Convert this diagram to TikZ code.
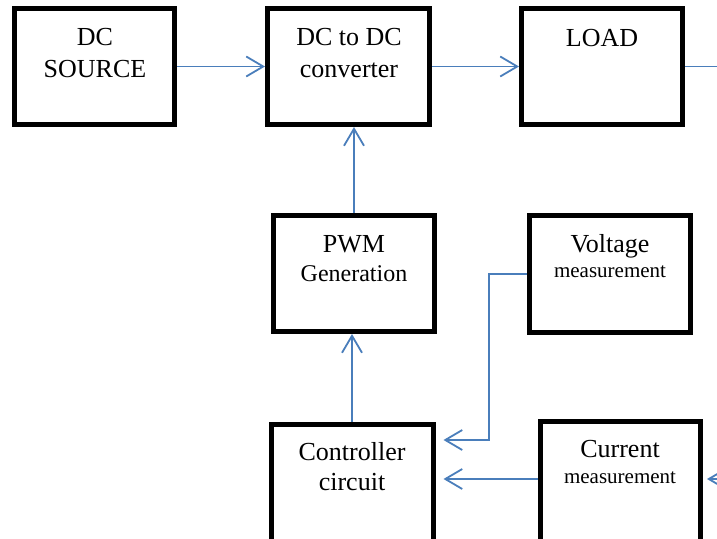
\documentclass[tikz,border=0pt]{standalone}
\usepackage{fontspec}
\setmainfont{Liberation Serif}
\usetikzlibrary{arrows.meta,calc}
\definecolor{arrowblue}{HTML}{4A7EBB}
\begin{document}
\begin{tikzpicture}[x=1pt,y=-1pt,
  blockbox/.style={draw=black,line width=5pt,inner sep=0pt,minimum height=116pt},
  bigtxt/.style={font=\fontsize{26}{31}\selectfont,anchor=base,inner sep=0pt},
  midtxt/.style={font=\fontsize{24}{29}\selectfont,anchor=base,inner sep=0pt},
  smalltxt/.style={font=\fontsize{21}{25}\selectfont,anchor=base,inner sep=0pt},
  flow/.style={draw=arrowblue,line width=1.8pt,-{Straight Barb[length=17pt,width=20pt]}},
  wire/.style={draw=arrowblue,line width=1.8pt}]
\useasboundingbox (0,0) rectangle (717,538);
\clip (0,0) rectangle (717,538);
% boxes
\node[blockbox,minimum width=160pt] (src)  at (94.5,66.5) {};
\node[blockbox,minimum width=162pt] (conv) at (348.5,66.5) {};
\node[blockbox,minimum width=161pt] (load) at (602,66.5) {};
\node[blockbox,minimum width=161pt] (pwm)  at (354,273.5) {};
\node[blockbox,minimum width=161pt,minimum height=117pt] (volt) at (610,274) {};
\node[blockbox,minimum width=162pt,minimum height=140pt] (ctrl) at (352,494.5) {};
\node[blockbox,minimum width=160pt,minimum height=140pt] (cur)  at (620.5,491.5) {};
% texts
\node[bigtxt] (srcA) at (95,45) {DC};
\node[bigtxt] (srcB) at (95,77) {SOURCE};
\node[bigtxt] (convA) at (349,45) {DC to DC};
\node[bigtxt] (convB) at (349,77) {converter};
\node[bigtxt] (loadA) at (602,46.5) {LOAD};
\node[bigtxt] (pwmA) at (354,252) {PWM};
\node[midtxt] (pwmB) at (354,281) {Generation};
\node[bigtxt] (voltA) at (610,252) {Voltage};
\node[smalltxt] (voltB) at (610,277) {measurement};
\node[bigtxt] (ctrlA) at (352,460) {Controller};
\node[bigtxt] (ctrlB) at (352,490) {circuit};
\node[bigtxt] (curA) at (620,457) {Current};
\node[smalltxt] (curB) at (620,483) {measurement};
% connectors
\coordinate (lout) at (717,66.5);
\coordinate (cin) at (717,479);
\coordinate (vb) at (489,440);
\coordinate (cy) at (0,479);
\draw[flow] (src.east) -- (conv.west);
\draw[flow] (conv.east) -- (load.west);
\draw[wire] (load.east) -- (lout);
\draw[flow] (pwm.north) -- (pwm.north |- conv.south);
\draw[flow] (ctrl.north) -- (ctrl.north |- pwm.south);
\draw[flow,shorten >=8pt] (volt.west) -- (volt.west -| vb) -- (vb) -- (vb -| ctrl.east);
\draw[flow,shorten >=8pt] (cur.west |- cy) -- (cy -| ctrl.east);
\draw[flow,shorten >=4pt] (cin) -- (cin -| cur.east);
\end{tikzpicture}
\end{document}
